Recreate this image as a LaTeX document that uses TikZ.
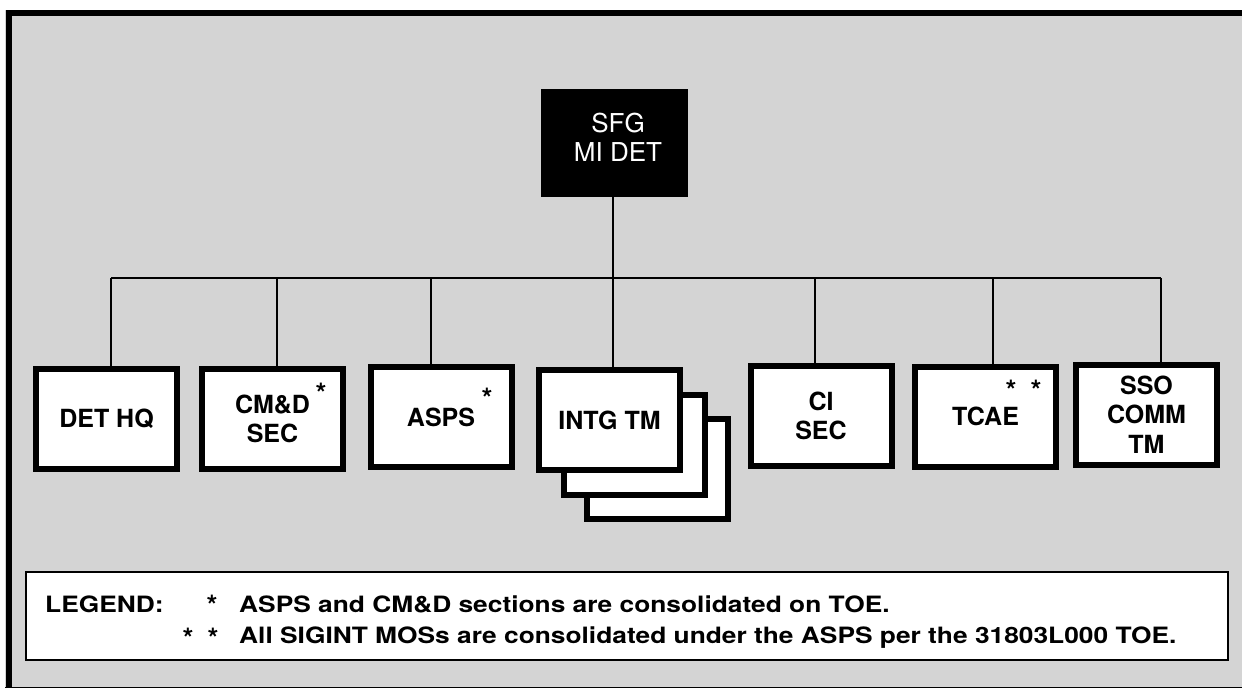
\documentclass[tikz,border=0pt]{standalone}
\usepackage{fontspec}
\setmainfont{TeX Gyre Heros}
\newfontfamily\legendfont[FakeStretch=1.17]{TeX Gyre Heros}
\usetikzlibrary{positioning}

\begin{document}
\begin{tikzpicture}[x=1pt,y=-1pt,
        unit/.style={draw=black,line width=6pt,fill=white,inner sep=0pt,
            minimum width=141pt,minimum height=100pt,align=center,
            font=\fontsize{25}{29.5}\selectfont\bfseries},
        link/.style={draw=black,line width=1.4pt},
        starmark/.style={inner sep=0pt,anchor=base,font=\fontsize{28}{28}\selectfont\bfseries},
        legendtext/.style={inner sep=0pt,anchor=base west,font=\fontsize{22.5}{27}\legendfont\bfseries}]
    \useasboundingbox (0,0) rectangle (1242,691);

    % shaded sheet and its frame
    \fill[black!17] (5,10) rectangle (1242,688);
    \draw[line width=6pt] (8.5,688) -- (8.5,13) -- (1242,13);
    \draw[line width=1pt] (5,687.5) -- (1242,687.5);

    % top of the chart
    \node[fill=black,inner sep=0pt,minimum width=147pt,minimum height=108pt] (sfg) at (614.5,143) {};
    \node[text=white,inner sep=0pt,align=center,font=\fontsize{26}{29}\selectfont] (sfglabel) at (618,137) {SFG\\MI DET};

    % the sections
    \node[unit] (dethq) at (106.5,419) {DET HQ};
    \node[unit] (cmd)   at (272.5,419) {CM\&D\\SEC};
    \node[unit] (asps)  at (441,417)   {ASPS};
    \node[unit] (intg3) at (657,469)   {};
    \node[unit] (intg2) at (634.5,445) {};
    \node[unit] (intg)  at (609.5,420) {INTG TM};
    \node[unit] (ci)    at (821,416)   {CI\\SEC};
    \node[unit] (tcae)  at (985.5,416.5) {TCAE};
    \node[unit] (sso)   at (1146.5,414.5) {SSO\\COMM\\TM};

    % footnote marks
    \node[starmark] (s1) at (321,403) {*};
    \node[starmark] (s2) at (487,408) {*};
    \node[starmark] (s3) at (1011,400) {*};
    \node[starmark] (s4) at (1036,400) {*};

    % bus
    \coordinate (bus1) at (111,278);
    \coordinate (bus2) at (277,278);
    \coordinate (bus3) at (431,278);
    \coordinate (bus4) at (613,278);
    \coordinate (bus5) at (815,278);
    \coordinate (bus6) at (993,278);
    \coordinate (bus7) at (1161,278);
    \draw[link] (bus1) -- (bus7);
    \draw[link] (sfg.south -| bus4) -- (bus4 |- intg.north);
    \draw[link] (bus1) -- (bus1 |- dethq.north);
    \draw[link] (bus2) -- (bus2 |- cmd.north);
    \draw[link] (bus3) -- (bus3 |- asps.north);
    \draw[link] (bus5) -- (bus5 |- ci.north);
    \draw[link] (bus6) -- (bus6 |- tcae.north);
    \draw[link] (bus7) -- (bus7 |- sso.north);

    % legend
    \node[draw=black,line width=1.4pt,fill=white,inner sep=0pt,
        minimum width=1202pt,minimum height=88pt] (legend) at (627,616) {};
    \node[legendtext] (leg)  at (45,612)  {LEGEND:};
    \node[starmark]   (ls1)  at (212,615) {*};
    \node[legendtext] (leg1) at (239,612) {ASPS and CM\&D sections are consolidated on TOE.};
    \node[starmark]   (ls2)  at (188,648) {*};
    \node[starmark]   (ls3)  at (213,648) {*};
    \node[legendtext] (leg2) at (239,643) {All SIGINT MOSs are consolidated under the ASPS per the 31803L000 TOE.};
\end{tikzpicture}
\end{document}
